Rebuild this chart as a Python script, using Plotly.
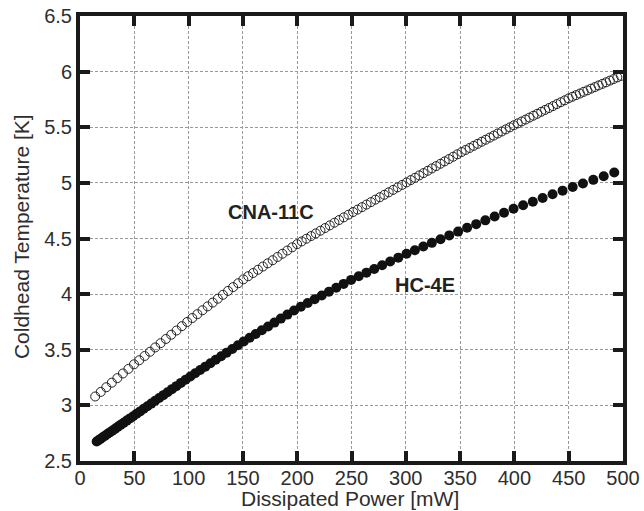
import plotly.graph_objects as go

# CNA-11C cold head: dissipated power [mW] and temperature [K]
cna_power = [
    14.0, 19.1, 24.2, 29.3, 34.4, 39.5, 44.6, 49.7,
    54.6, 59.5, 64.4, 69.3, 74.2, 79.1, 84.0, 88.9, 93.8, 98.7,
    103.4, 108.1, 112.8, 117.5, 122.2, 126.9, 131.6, 136.3, 141.0, 145.7, 150.4,
    154.9, 159.4, 163.9, 168.4, 172.9, 177.4, 181.9, 186.4, 190.9, 195.4, 199.9,
    204.2, 208.5, 212.8, 217.1, 221.4, 225.7, 230.0, 234.3, 238.6, 242.9, 247.2, 251.5,
    255.6, 259.7, 263.8, 267.9, 272.0, 276.1, 280.2, 284.3, 288.4, 292.5, 296.6, 300.7,
    304.6, 308.5, 312.4, 316.3, 320.2, 324.1, 328.0, 331.9, 335.8, 339.7, 343.6, 347.5, 351.4,
    355.1, 358.8, 362.5, 366.2, 369.9, 373.6, 377.3, 381.0, 384.7, 388.4, 392.1, 395.8, 399.5,
    403.1, 406.7, 410.3, 413.9, 417.5, 421.1, 424.7, 428.3, 431.9, 435.5, 439.1, 442.7, 446.3, 449.9,
    453.4, 456.8, 460.3, 463.7, 467.2, 470.6, 474.1, 477.5, 481.0, 484.4, 487.9, 491.3, 494.8, 498.2,
]
cna_temp = [
    3.080, 3.121, 3.163, 3.204, 3.245, 3.287, 3.328, 3.369,
    3.406, 3.444, 3.482, 3.521, 3.559, 3.597, 3.635, 3.673, 3.712, 3.750,
    3.785, 3.820, 3.855, 3.890, 3.924, 3.959, 3.994, 4.029, 4.063, 4.098, 4.133,
    4.161, 4.190, 4.219, 4.248, 4.277, 4.305, 4.334, 4.363, 4.392, 4.421, 4.449,
    4.474, 4.498, 4.522, 4.546, 4.570, 4.594, 4.618, 4.642, 4.666, 4.690, 4.714, 4.738,
    4.760, 4.782, 4.805, 4.827, 4.849, 4.871, 4.893, 4.915, 4.937, 4.960, 4.982, 5.004,
    5.025, 5.046, 5.067, 5.088, 5.109, 5.130, 5.151, 5.172, 5.193, 5.214, 5.235, 5.257, 5.277,
    5.296, 5.314, 5.333, 5.351, 5.370, 5.388, 5.407, 5.425, 5.444, 5.462, 5.481, 5.499, 5.518,
    5.535, 5.552, 5.569, 5.587, 5.604, 5.621, 5.639, 5.656, 5.673, 5.690, 5.708, 5.725, 5.742, 5.760,
    5.774, 5.789, 5.803, 5.818, 5.832, 5.847, 5.861, 5.876, 5.890, 5.904, 5.919, 5.933, 5.948, 5.962,
]

# HC-4E cold head: dissipated power [mW] and temperature [K]
hc_power = [
    15.37, 17.14, 19.01, 20.98, 23.04, 25.20, 27.46, 29.81, 32.26, 34.81,
    37.45, 40.20, 43.03, 45.97, 49.00, 52.13, 55.35, 58.68, 62.09, 65.61,
    69.22, 72.93, 76.74, 80.64, 84.64, 88.74, 92.93, 97.22, 101.61, 106.09,
    110.67, 115.35, 120.12, 124.99, 129.96, 135.02, 140.19, 145.44, 150.80, 156.25,
    161.80, 167.44, 173.19, 179.02, 184.96, 190.99, 197.12, 203.35, 209.67, 216.09,
    222.61, 229.22, 235.93, 242.74, 249.64, 256.64, 263.74, 270.93, 278.22, 285.61,
    293.09, 300.68, 308.35, 316.13, 324.00, 331.97, 340.03, 348.20, 356.45, 364.81,
    373.26, 381.81, 390.46, 399.20, 408.04, 416.98, 426.01, 435.14, 444.37, 453.69,
    463.11, 472.63, 482.24, 491.95,
]
hc_temp = [
    2.675, 2.687, 2.700, 2.713, 2.727, 2.742, 2.757, 2.773, 2.789, 2.807,
    2.825, 2.843, 2.863, 2.883, 2.903, 2.924, 2.946, 2.969, 2.992, 3.016,
    3.041, 3.066, 3.092, 3.118, 3.146, 3.173, 3.202, 3.231, 3.260, 3.289,
    3.318, 3.348, 3.379, 3.410, 3.442, 3.474, 3.507, 3.541, 3.575, 3.608,
    3.641, 3.675, 3.709, 3.744, 3.780, 3.816, 3.853, 3.887, 3.920, 3.954,
    3.988, 4.022, 4.057, 4.092, 4.128, 4.161, 4.193, 4.226, 4.260, 4.294,
    4.328, 4.363, 4.395, 4.428, 4.461, 4.494, 4.528, 4.562, 4.596, 4.629,
    4.663, 4.697, 4.732, 4.767, 4.799, 4.831, 4.864, 4.897, 4.930, 4.963,
    4.995, 5.027, 5.060, 5.093,
]

series_labels = ["CNA-11C", "HC-4E"]
label_positions = [(176, 4.74), (318, 4.08)]

x_title = "Dissipated Power [mW]"
y_title = "Coldhead Temperature [K]"

x_range = [0, 500]
y_range = [2.5, 6.5]

FONT = "Liberation Sans, Arial, sans-serif"
INK = "#1a1a1a"
TEXT = "#2e2e2e"

fig = go.Figure()
fig.add_trace(go.Scatter(
    x=cna_power, y=cna_temp, mode="markers", name=series_labels[0],
    marker=dict(symbol="circle-open", size=9, color="#222222", line=dict(width=1, color="#222222")),
))
fig.add_trace(go.Scatter(
    x=hc_power, y=hc_temp, mode="markers", name=series_labels[1],
    marker=dict(symbol="circle", size=10, color="#111111"),
))

for text, (lx, ly) in zip(series_labels, label_positions):
    fig.add_annotation(x=lx, y=ly, text=f"<b>{text}</b>", showarrow=False,
                       font=dict(family=FONT, size=20, color="#222222"))

# axis titles placed relative to the plotting area
fig.add_annotation(xref="paper", yref="paper", x=0.497, y=-0.0835, text=x_title,
                   showarrow=False, xanchor="center", yanchor="middle",
                   font=dict(family=FONT, size=21, color=TEXT))
fig.add_annotation(xref="paper", yref="paper", x=-0.109, y=0.505, text=y_title,
                   showarrow=False, xanchor="center", yanchor="middle", textangle=-90,
                   font=dict(family=FONT, size=21, color=TEXT))

axis_common = dict(
    showline=True, linewidth=4, linecolor=INK, mirror="ticks",
    ticks="inside", ticklen=10, tickwidth=4, tickcolor=INK,
    showgrid=True, gridcolor="#9a9a9a", gridwidth=1, griddash="3px,2px",
    zeroline=False, automargin=False,
    tickfont=dict(family=FONT, size=20, color=TEXT),
)

fig.update_xaxes(range=x_range, dtick=50, tick0=0, ticklabelstandoff=-4, **axis_common)
fig.update_yaxes(range=y_range, dtick=0.5, tick0=2.5, ticklabelstandoff=0, **axis_common)

fig.update_layout(
    width=644, height=511,
    margin=dict(l=80, r=21, t=16, b=50, autoexpand=False),
    paper_bgcolor="white", plot_bgcolor="white",
    showlegend=False,
)

fig.write_html("out.html")
